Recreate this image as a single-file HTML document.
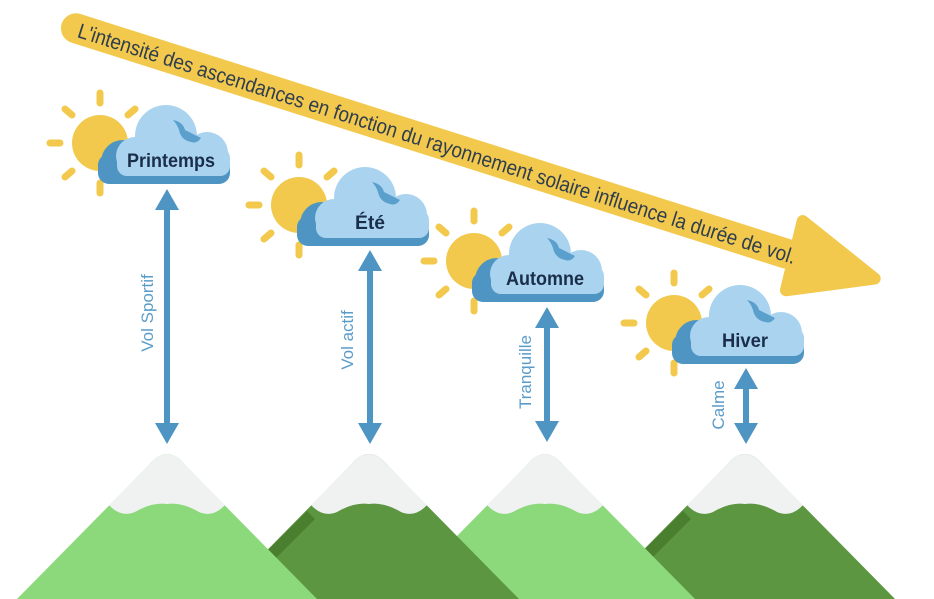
<!DOCTYPE html>
<html><head><meta charset="utf-8"><style>
html,body{margin:0;padding:0;background:#fff;}
svg{display:block;}
text{font-family:"Liberation Sans",sans-serif;}
</style></head><body>
<svg width="934" height="599" viewBox="0 0 934 599" xmlns="http://www.w3.org/2000/svg">
<defs>
<g id="sun">
  <circle cx="-71" cy="-17" r="28" fill="#f2c94c"/>
  <g stroke="#f2c94c" stroke-width="7" stroke-linecap="round">
    <line x1="-71" y1="-57" x2="-71" y2="-67"/>
    <line x1="-71" y1="23" x2="-71" y2="33"/>
    <line x1="-111" y1="-17" x2="-121" y2="-17"/>
    <line x1="-99" y1="-45" x2="-106" y2="-51"/>
    <line x1="-43" y1="-45" x2="-36" y2="-51"/>
    <line x1="-99" y1="11" x2="-106" y2="17"/>
  </g>
</g>
<g id="cloud">
  <circle cx="-48" cy="2" r="22" fill="#4e95c3"/>
  <rect x="-73" y="-6" width="132" height="30" rx="11" fill="#4e95c3"/>
  <circle cx="-5" cy="-24" r="31" fill="#a9d3ef"/>
  <circle cx="36" cy="-7" r="21" fill="#a9d3ef"/>
  <circle cx="-36" cy="-4" r="19" fill="#a9d3ef"/>
  <rect x="-54" y="-12" width="113" height="28" rx="10" fill="#a9d3ef"/>
  <path d="M2,-40 Q12,-38 14,-30 Q22,-26 30,-22 Q26,-16 20,-18 Q10,-20 8,-30 Q6,-36 2,-40 Z" fill="#5b9fcc"/>
</g>
<path id="mt" d="M-150,150 L-20,18 Q0,-8 20,18 L150,150 Z"/>
<path id="snow" d="M-58,56 L-20,18 Q0,-8 20,18 L58,56 Q46,69 32,63 Q15,53 0,55 Q-15,53 -32,63 Q-46,69 -58,56 Z" fill="#f0f2f2"/>
<path id="stripe" d="M-150,150 L-62,62 L-54,70 L-134,150 Z" fill="#4a7f2f"/>
</defs>

<g transform="translate(745,449)"><use href="#mt" fill="#5c9641"/><use href="#stripe"/><use href="#snow"/></g>
<g transform="translate(545,449)"><use href="#mt" fill="#8cd97b"/><use href="#snow"/></g>
<g transform="translate(369,449)"><use href="#mt" fill="#5c9641"/><use href="#stripe"/><use href="#snow"/></g>
<g transform="translate(167,449)"><use href="#mt" fill="#8cd97b"/><use href="#snow"/></g>

<g transform="translate(75,28) rotate(17.6)">
  <rect x="-14" y="-15" width="775" height="30" rx="15" fill="#f2c94c"/>
  <path d="M752,-36 L838,-3 L757,35 Z" fill="#f2c94c" stroke="#f2c94c" stroke-width="12" stroke-linejoin="round"/>
  <text x="4" y="8" font-size="21" fill="#2e3d4f" textLength="752" lengthAdjust="spacingAndGlyphs">L'intensité des ascendances en fonction du rayonnement solaire influence la durée de vol.</text>
</g>

<g transform="translate(171,160)"><use href="#sun"/><use href="#cloud"/>
<text x="0" y="7" font-size="19" font-weight="bold" text-anchor="middle" fill="#1a2e4a" textLength="88" lengthAdjust="spacingAndGlyphs">Printemps</text></g>
<g transform="translate(370,222)"><use href="#sun"/><use href="#cloud"/>
<text x="0" y="7" font-size="19" font-weight="bold" text-anchor="middle" fill="#1a2e4a" textLength="30" lengthAdjust="spacingAndGlyphs">Été</text></g>
<g transform="translate(545,278)"><use href="#sun"/><use href="#cloud"/>
<text x="0" y="7" font-size="19" font-weight="bold" text-anchor="middle" fill="#1a2e4a" textLength="78" lengthAdjust="spacingAndGlyphs">Automne</text></g>
<g transform="translate(745,340)"><use href="#sun"/><use href="#cloud"/>
<text x="0" y="7" font-size="19" font-weight="bold" text-anchor="middle" fill="#1a2e4a" textLength="46" lengthAdjust="spacingAndGlyphs">Hiver</text></g>

<g fill="#4e95c3">
  <rect x="164" y="200" width="6" height="232"/>
  <path d="M167,189 L179,210 L155,210 Z"/><path d="M167,444 L179,423 L155,423 Z"/>
  <rect x="367" y="262" width="6" height="170"/>
  <path d="M370,250 L382,271 L358,271 Z"/><path d="M370,444 L382,423 L358,423 Z"/>
  <rect x="544" y="318" width="6" height="113"/>
  <path d="M547,307 L559,328 L535,328 Z"/><path d="M547,442 L559,421 L535,421 Z"/>
  <rect x="743" y="380" width="6" height="52"/>
  <path d="M746,368 L758,389 L734,389 Z"/><path d="M746,444 L758,423 L734,423 Z"/>
</g>
<g fill="#5a9cc8" font-size="17" text-anchor="middle">
  <text transform="translate(153,313) rotate(-90)">Vol Sportif</text>
  <text transform="translate(353,340) rotate(-90)">Vol actif</text>
  <text transform="translate(531,372) rotate(-90)">Tranquille</text>
  <text transform="translate(724,405) rotate(-90)">Calme</text>
</g>
</svg>
</body></html>
